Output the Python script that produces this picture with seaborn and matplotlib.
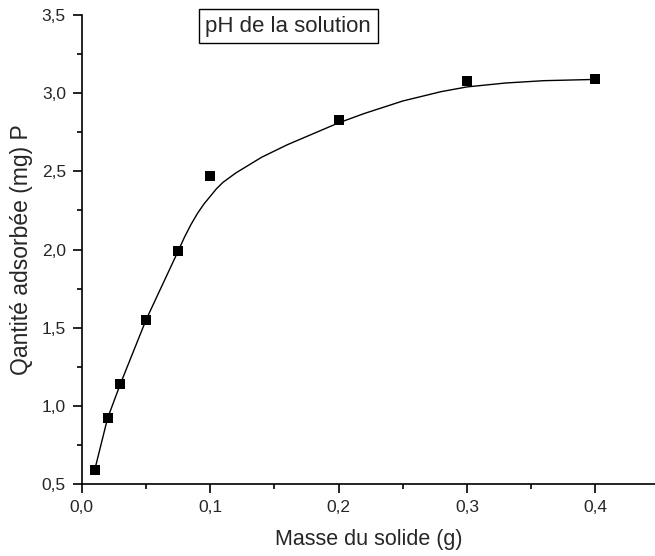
import matplotlib
matplotlib.use("Agg")
import matplotlib.pyplot as plt
import seaborn as sns
import pandas as pd
from matplotlib.ticker import MultipleLocator, FuncFormatter

# measured points
masse = [0.01, 0.02, 0.03, 0.05, 0.075, 0.1, 0.2, 0.3, 0.4]
quantite = [0.59, 0.92, 1.14, 1.55, 1.99, 2.47, 2.83, 3.08, 3.09]

# fitted curve
curve_x = [0.01, 0.02, 0.03, 0.05, 0.075, 0.08, 0.085, 0.09, 0.095, 0.1, 0.105, 0.11, 0.12,
           0.13, 0.14, 0.16, 0.18, 0.2, 0.22, 0.25, 0.28, 0.3, 0.33, 0.36, 0.4]
curve_y = [0.59, 0.92, 1.14, 1.55, 1.99, 2.08, 2.16, 2.23, 2.29, 2.34, 2.39, 2.43, 2.49,
           2.54, 2.59, 2.67, 2.74, 2.81, 2.87, 2.95, 3.01, 3.04, 3.065, 3.08, 3.088]

sns.set_style("white")
plt.rcParams['font.family'] = ['Liberation Sans', 'DejaVu Sans']

fig = plt.figure(figsize=(6.55, 5.56), dpi=100)
ax = fig.add_axes([0.125, 0.1295, 0.875, 0.8435])

df_curve = pd.DataFrame({"x": curve_x, "y": curve_y})
df_pts = pd.DataFrame({"x": masse, "y": quantite})
sns.lineplot(data=df_curve, x="x", y="y", ax=ax, color="black", linewidth=1.0, sort=False)
sns.scatterplot(data=df_pts, x="x", y="y", ax=ax, marker="s", s=45, color="black",
                edgecolor="black", linewidth=0, zorder=3)

ax.set_xlim(0, 0.4465)
ax.set_ylim(0.5, 3.5)
ax.xaxis.set_major_locator(MultipleLocator(0.1))
ax.xaxis.set_minor_locator(MultipleLocator(0.05))
ax.yaxis.set_major_locator(MultipleLocator(0.5))
ax.yaxis.set_minor_locator(MultipleLocator(0.25))
fmt = FuncFormatter(lambda v, p: f"{v:.1f}".replace(".", ","))
ax.xaxis.set_major_formatter(fmt)
ax.yaxis.set_major_formatter(fmt)

for s in ["top", "right"]:
    ax.spines[s].set_visible(False)
for s in ["left", "bottom"]:
    ax.spines[s].set_color("black")
    ax.spines[s].set_linewidth(1.2)
ax.tick_params(which="major", direction="out", length=6.5, width=1.2, labelsize=12.5, color="black",
               bottom=True, left=True, pad=5)
ax.tick_params(which="minor", direction="out", length=3.6, width=1.2, color="black",
               bottom=True, left=True)

ax.set_xlabel("Masse du solide (g)", fontsize=15.5, labelpad=10)
ax.set_ylabel("Qantité adsorbée (mg) P", fontsize=16.5, labelpad=6)

ax.text(0.36, 0.976, "pH de la solution", transform=ax.transAxes, ha="center", va="center",
        fontsize=16, bbox=dict(boxstyle="square,pad=0.3", facecolor="white",
                               edgecolor="black", linewidth=1.0))

fig.savefig("out.png", dpi=100)
